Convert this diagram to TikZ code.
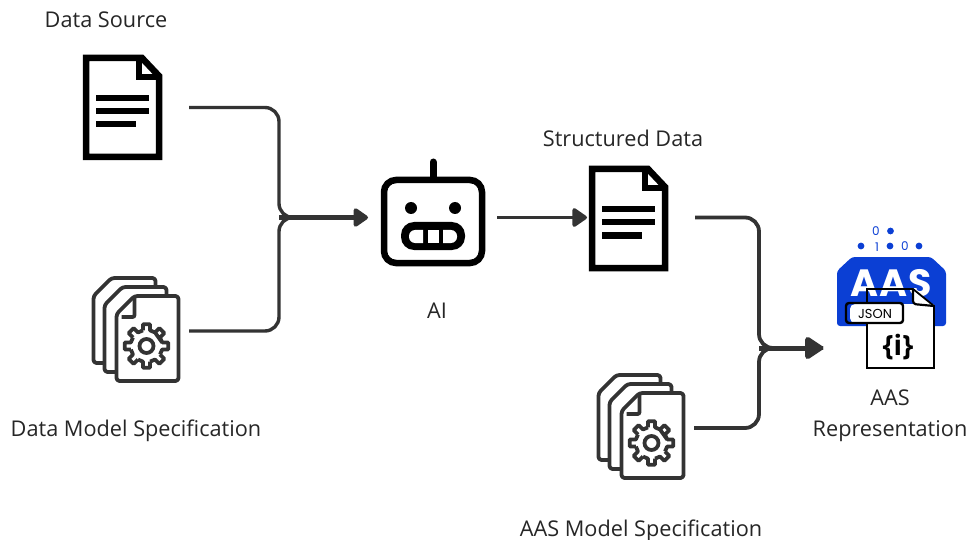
\documentclass[tikz,border=0pt]{standalone}
\usepackage{fontspec}
\setmainfont{Open Sans}
\newfontfamily\logofont{Poppins}
\usetikzlibrary{arrows.meta}
\definecolor{linegray}{HTML}{333333}
\definecolor{aasblue}{HTML}{0B3FD4}
\tikzset{
  label/.style={font=\fontsize{21.7}{31}\selectfont, text=black!85, align=center, inner sep=0pt},
  iconbox/.style={inner sep=0pt, outer sep=0pt},
  flow/.style={draw=linegray, line width=3.4pt, rounded corners=14pt},
  flowtip/.style={draw=linegray, line width=4.2pt, -{Triangle[round,length=16pt,width=21pt]}},
  flowbig/.style={draw=linegray, line width=3.8pt, rounded corners=14pt},
  flowbigtip/.style={draw=linegray, line width=5pt, -{Triangle[round,length=20pt,width=25pt]}},
  pics/docicon/.style={code={
    \draw[line width=6.5pt, miter limit=10] (3,3) -- (59,3) -- (76,21) -- (76,102) -- (3,102) -- cycle;
    \draw[line width=6pt] (56,3) -- (56,22) -- (76,22);
    \fill (13,40) rectangle +(53,6.5);
    \fill (13,53) rectangle +(53,6.5);
    \fill (13,66) rectangle +(40,6.5);
  }},
  pics/specpage/.style={code={
    \draw[draw=linegray, fill=white, line width=3.8pt, line join=round, rounded corners=3pt] (3,20) -- (21,2) -- (65,2) -- (65,87) -- (3,87) -- cycle;
  }},
  pics/specicon/.style={code={
    \pic at (-23,-18) {specpage};
    \pic at (-12,-9) {specpage};
    \pic at (0,0) {specpage};
    \draw[draw=linegray, line width=3.8pt, rounded corners=2pt] (21,3) -- (21,23) -- (8,23);
    % gear teeth
    \draw[shift={(33,52)}, draw=linegray, line width=3.8pt, line join=round]
      \foreach \ang in {0,45,...,315}{
        (\ang-13:16) -- (\ang-9:22) -- (\ang+9:22) -- (\ang+13:16) -- (\ang+32:16)
      } -- cycle;
    \draw[shift={(33,52)}, draw=linegray, line width=3.8pt] (0,0) circle (7);
  }},
}
\begin{document}
\begin{tikzpicture}[x=1pt,y=-1pt]
\useasboundingbox (0,0) rectangle (969,540);

% icons
\node[iconbox, minimum width=80pt, minimum height=105pt] (source) at (123,107.5) {};
\pic at (83,55) {docicon};
\node[iconbox, minimum width=88pt, minimum height=105pt] (spec) at (136,331) {};
\pic at (113.5,294) {specicon};
\node[iconbox, minimum width=104pt, minimum height=89pt] (ai) at (433,217.5) {};
\node[iconbox, minimum width=80pt, minimum height=105pt] (structured) at (628,217.5) {};
\pic at (589,166) {docicon};
\node[iconbox, minimum width=88pt, minimum height=105pt] (aasspec) at (641,428) {};
\pic at (618.5,391) {specicon};
\coordinate (join1) at (279,217.5);
\coordinate (join2) at (759,348);
\coordinate (aasin) at (823,348);

% robot
\draw[line width=6.5pt, rounded corners=12pt] (384,180) rectangle (482,263);
\draw[line width=7pt, line cap=round] (433,162) -- (433,178);
\fill (411,208) circle (6) (455,208) circle (6);
\fill[rounded corners=13pt] (401,222) rectangle (465,250);
\fill[white] (423,230) [rounded corners=6pt] -- (409,230) -- (409,243) [sharp corners] -- (423,243) -- cycle;
\fill[white] (427.5,230) rectangle (438.5,243);
\fill[white] (443,230) [rounded corners=6pt] -- (457,230) -- (457,243) [sharp corners] -- (443,243) -- cycle;

% aas logo
\fill[aasblue, rounded corners=3pt] (852,257) -- (931,257) -- (946,271) -- (946,326) -- (837,326) -- (837,271) -- cycle;
\node[iconbox, font=\fontsize{38}{38}\logofont\bfseries\addfontfeature{LetterSpace=3}, text=white] at (891,283) {AAS};
\fill[aasblue] (890.5,231) circle (3.4) (861,246) circle (3.4) (890,246) circle (3.4) (919,246) circle (3.4);
\node[iconbox, font=\fontsize{12}{12}\logofont, text=aasblue] at (876,231) {0};
\node[iconbox, font=\fontsize{12}{12}\logofont, text=aasblue] at (877,247) {1};
\node[iconbox, font=\fontsize{12}{12}\logofont, text=aasblue] at (905,246) {0};
\fill[white] (867,304) rectangle (934,368);
\fill[white] (913,289) -- (934,306) -- (913,306) -- cycle;
\draw[line width=1.8pt] (867,303) -- (867,289) -- (913,289) -- (934,306) -- (934,368) -- (867,368) -- (867,323);
\draw[line width=2.2pt, rounded corners=3pt] (913,289) -- (913,304) -- (934,306);
\fill[white, rounded corners=5pt] (850,323) -- (850,304) -- (903,304) -- (903,323) -- cycle;
\draw[line width=2.4pt, rounded corners=3pt] (846,303) rectangle (903,323);
\node[iconbox, font=\fontsize{13}{13}\logofont] at (875,314) {JSON};
\node[iconbox, font=\fontsize{28}{28}\selectfont\bfseries] at (898,347) {\{i\}};

% connectors
\draw[flow] ([xshift=26pt]source.east) -| (join1) -- ([xshift=-22pt]ai.west);
\draw[flow] ([xshift=9pt]spec.east) -| (join1) -- ([xshift=-22pt]ai.west);
\draw[flowtip] (join1) -- ([xshift=-13pt]ai.west);
\draw[flowtip, line width=3.6pt] ([xshift=12pt]ai.east) -- ([xshift=-1pt]structured.west);
\draw[flowbig] ([xshift=27pt]structured.east) -| (join2) -- (aasin);
\draw[flowbig] ([xshift=9pt]aasspec.east) -| (join2) -- (aasin);
\draw[flowbigtip] (join2) -- (aasin);

% labels
\node[label] (sourcetxt) at (106,20) {Data Source};
\node[label] (spectxt) at (136,431) {Data Model Specification};
\node[label] (aitxt) at (437,311) {AI};
\node[label] (structuredtxt) at (623,138) {Structured Data};
\node[label] (aasspectxt) at (641,531) {AAS Model Specification};
\node[label] (aastxt) at (890,415.5) {AAS\\Representation};
\end{tikzpicture}
\end{document}
